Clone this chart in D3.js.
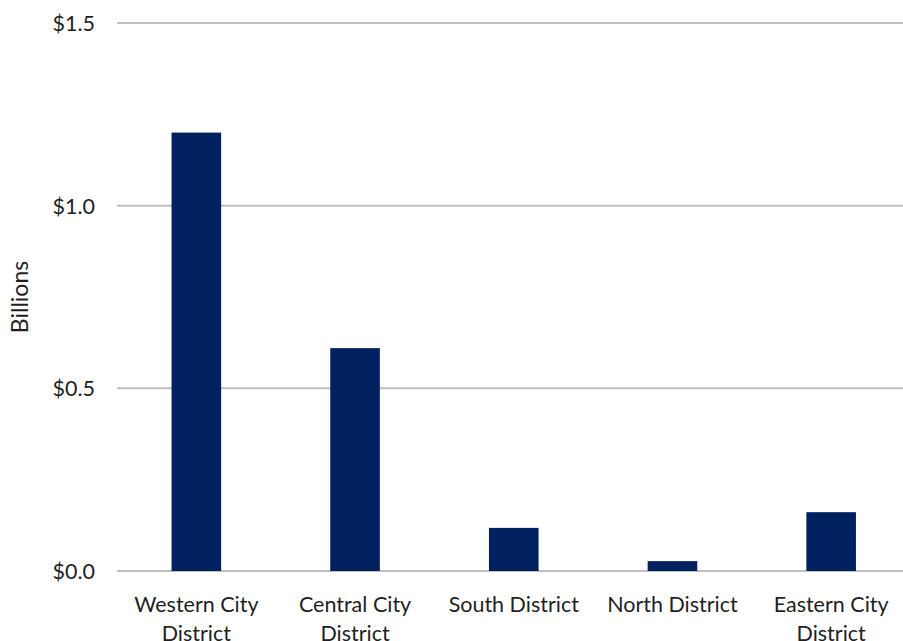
<!DOCTYPE html>
<html><head><meta charset="utf-8">
<script src="https://cdn.jsdelivr.net/npm/d3@7"></script>
<style>body{margin:0;background:#fff}svg{display:block}</style>
</head><body><svg id="c" width="903" height="641"></svg>
<script>
const categories = [["Western City","District"],["Central City","District"],["South District"],["North District"],["Eastern City","District"]];
const values = [1.2, 0.61, 0.118, 0.027, 0.161];
const yTicks = [0, 0.5, 1.0, 1.5];
const yLabel = "Billions";

const svg = d3.select("#c");
const font = "Lato, 'Open Sans', sans-serif";
const fs = 21.5;
const x = d3.scaleBand().domain(d3.range(values.length)).range([117, 910.5]).paddingInner(0.6875).paddingOuter(0.34375);
const y = d3.scaleLinear().domain([0, 1.5]).range([571, 23]);

svg.append("g").selectAll("line").data(yTicks).join("line")
  .attr("x1", 117).attr("x2", 903).attr("y1", d => y(d)).attr("y2", d => y(d))
  .attr("stroke", "#bfbfbf").attr("stroke-width", 2);

svg.append("g").selectAll("rect").data(values).join("rect")
  .attr("x", (d,i) => x(i)).attr("width", x.bandwidth())
  .attr("y", d => y(d)).attr("height", d => y(0) - y(d))
  .attr("fill", "#002060");

const yAxis = d3.axisLeft(y).tickValues(yTicks).tickFormat(d => "$" + d3.format(".1f")(d)).tickSize(0).tickPadding(0);
const ga = svg.append("g").attr("transform", "translate(95,0)").call(yAxis);
ga.select(".domain").remove();
ga.selectAll("text").attr("font-family", font).attr("font-size", fs).attr("fill", "#1f1f1f").attr("dy", "0.35em");

const xAxis = d3.axisBottom(x).tickSize(0).tickFormat(() => "");
const gx = svg.append("g").attr("transform", "translate(0,571)").call(xAxis);
gx.select(".domain").remove();
gx.selectAll(".tick").each(function(d){
  const t = d3.select(this).append("text").attr("text-anchor","middle").attr("font-family",font).attr("font-size",fs).attr("fill","#1f1f1f");
  categories[d].forEach((line, k) => t.append("tspan").attr("x",0).attr("y", 41 + k*29).text(line));
});

svg.append("text").attr("transform","translate(28,297) rotate(-90)").attr("text-anchor","middle")
  .attr("font-family",font).attr("font-size",23).attr("fill","#1f1f1f").text(yLabel);
</script></body></html>
